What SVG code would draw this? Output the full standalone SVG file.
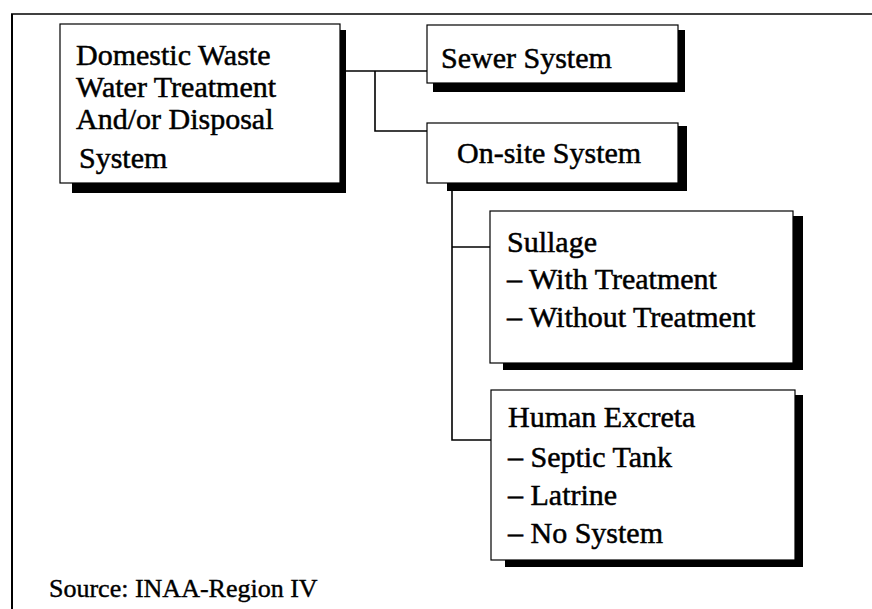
<svg xmlns="http://www.w3.org/2000/svg" width="872" height="609" viewBox="0 0 872 609">
  <style>
    .box { fill: #fff; stroke: #000; stroke-width: 1.2; }
    .shadow { fill: #000; }
    .frame { fill: none; stroke: #000; }
    .link { fill: none; stroke: #000; stroke-width: 1.6; }
    .label { font-family: "Liberation Serif", "Times New Roman", serif; font-size: 30px; fill: #000; stroke: #000; stroke-width: 0.5; }
    .note { font-family: "Liberation Serif", "Times New Roman", serif; font-size: 26px; fill: #000; stroke: #000; stroke-width: 0.4; }
  </style>
  <rect width="872" height="609" fill="#fff"/>

  <!-- page frame: top rule and left rule -->
  <g id="frame">
    <line class="frame" x1="11" y1="14" x2="872" y2="14" stroke-width="1.5"/>
    <line class="frame" x1="12" y1="14" x2="12" y2="609" stroke-width="2"/>
  </g>

  <!-- connectors -->
  <g id="connectors">
    <polyline class="link" points="346,71 427,71"/>
    <polyline class="link" points="375,71 375,131 427,131"/>
    <polyline class="link" points="452,191 452,440 491,440" stroke-width="2"/>
    <polyline class="link" points="452,247 490,247"/>
  </g>

  <!-- root node -->
  <g id="domestic">
    <path class="shadow" d="M340,30 H346 V193 H72 V183 H340 Z"/>
    <rect class="box" x="60" y="24" width="280" height="159"/>
    <text class="label" x="76" y="65">Domestic Waste</text>
    <text class="label" x="76" y="97">Water Treatment</text>
    <text class="label" x="76" y="129">And/or Disposal</text>
    <text class="label" x="79" y="168">System</text>
  </g>

  <g id="sewer">
    <path class="shadow" d="M678,30 H685 V92 H433 V83 H678 Z"/>
    <rect class="box" x="427" y="25" width="251" height="58"/>
    <text class="label" x="441" y="68">Sewer System</text>
  </g>

  <g id="onsite">
    <path class="shadow" d="M678,126 H687 V191 H447 V183 H678 Z"/>
    <rect class="box" x="427" y="123" width="251" height="60"/>
    <text class="label" x="457" y="163">On-site System</text>
  </g>

  <g id="sullage">
    <path class="shadow" d="M793,216 H803 V370 H503 V363 H793 Z"/>
    <rect class="box" x="490" y="211" width="303" height="152"/>
    <text class="label" x="507" y="252">Sullage</text>
    <text class="label" x="507" y="289">– With Treatment</text>
    <text class="label" x="507" y="327">– Without Treatment</text>
  </g>

  <g id="excreta">
    <path class="shadow" d="M795,395 H803 V567 H505 V560 H795 Z"/>
    <rect class="box" x="491" y="390" width="304" height="170"/>
    <text class="label" x="508" y="427">Human Excreta</text>
    <text class="label" x="508" y="467">– Septic Tank</text>
    <text class="label" x="508" y="505">– Latrine</text>
    <text class="label" x="508" y="543">– No System</text>
  </g>

  <text class="note" x="49" y="597">Source: INAA-Region IV</text>
</svg>
